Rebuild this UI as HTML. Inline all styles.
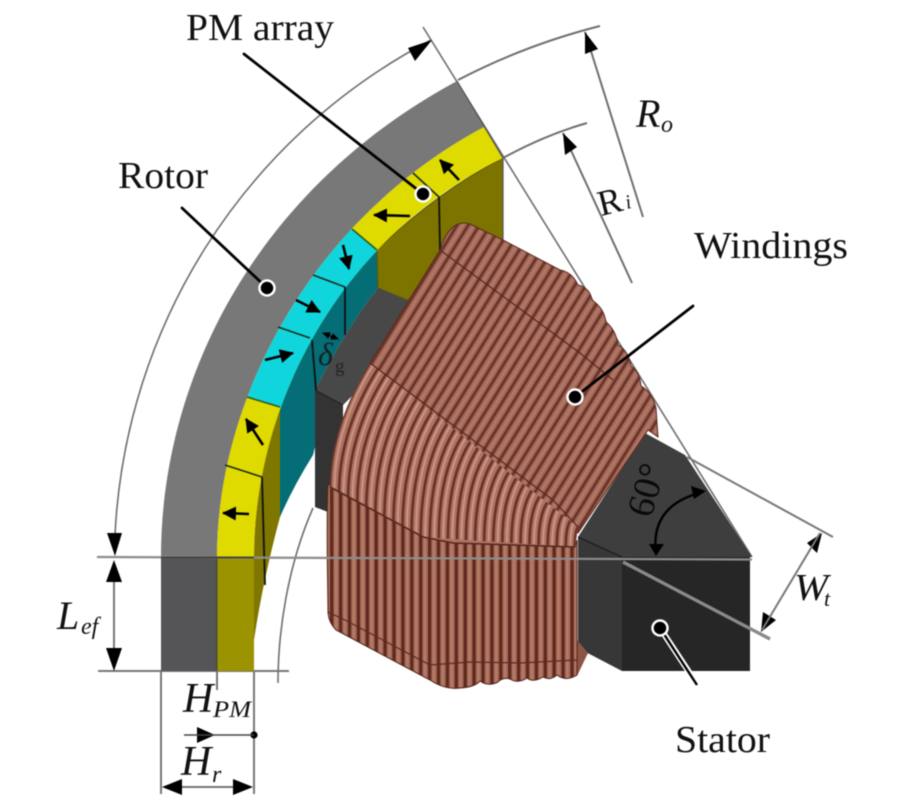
<!DOCTYPE html>
<html><head><meta charset="utf-8"><style>
html,body{margin:0;padding:0;background:#fff}
svg{display:block;filter:blur(.45px)}
text{font-family:"Liberation Serif",serif;fill:#111}
.i{font-style:italic}
</style></head><body>
<svg width="900" height="800" viewBox="0 0 900 800" xmlns="http://www.w3.org/2000/svg">
<defs>
<pattern id="z1" width="9.4" height="30" patternUnits="userSpaceOnUse" patternTransform="translate(370,363) rotate(31.8)">
<rect width="9.4" height="30" fill="#a56a5a"/><rect x="0" width="3" height="30" fill="#6c3529"/><rect x="5.4" width="1.6" height="30" fill="#b47c6c"/>
</pattern>
<pattern id="z3" width="8.9" height="30" patternUnits="userSpaceOnUse" patternTransform="translate(330,0)">
<rect width="8.9" height="30" fill="#a76b59"/><rect x="0" width="3.4" height="30" fill="#5f2a1f"/><rect x="5.2" width="1.6" height="30" fill="#b87f6c"/>
</pattern>
<marker id="a" markerUnits="userSpaceOnUse" markerWidth="16" markerHeight="14" refX="13" refY="7" orient="auto"><path d="M0,0L14,7L0,14z" fill="#000"/></marker>
<marker id="s" markerUnits="userSpaceOnUse" markerWidth="8" markerHeight="8" refX="7" refY="4" orient="auto"><path d="M0,0.5L8,4L0,7.5z" fill="#000"/></marker>
<marker id="sb" markerUnits="userSpaceOnUse" markerWidth="8" markerHeight="8" refX="1" refY="4" orient="auto"><path d="M8,0.5L0,4L8,7.5z" fill="#000"/></marker>
<path id="ring" d="M217,557C217,400 310,220 484,127L503,158C335,240 254,410 254,557Z"/>
<clipPath id="cy"><polygon points="285,409 382,254 352,229 300,230 230,340 247,397"/></clipPath>
<g id="c2" fill="none">
<path d="M370,363Q330,427 330,488"/><path d="M377.7,369.1Q339.1,430.9 339.1,492.9"/><path d="M385.4,375.1Q348.1,434.7 348.1,497.8"/><path d="M393.1,381.2Q357.2,438.6 357.2,502.7"/><path d="M400.8,387.3Q366.3,442.5 366.3,507.6"/><path d="M408.5,393.4Q375.4,446.4 375.4,512.5"/><path d="M416.2,399.4Q384.4,450.3 384.4,517.4"/><path d="M423.9,405.5Q393.5,454.2 393.5,522.3"/><path d="M431.6,411.6Q402.6,458 402.6,527.2"/><path d="M439.3,417.6Q411.6,461.9 411.6,532.1"/><path d="M447,423.7Q420.7,465.8 420.7,537"/><path d="M454.7,429.8Q429.8,469.7 429.8,537.6"/><path d="M462.4,435.8Q438.8,473.5 438.8,538.2"/><path d="M470.1,441.9Q447.9,477.4 447.9,538.8"/><path d="M477.8,448Q457,481.3 457,539.4"/><path d="M485.5,454Q466,485.2 466,540"/><path d="M493.2,460.1Q475.1,489 475.1,540.6"/><path d="M500.9,466.2Q484.2,492.9 484.2,541.2"/><path d="M508.6,472.3Q493.3,496.9 493.3,541.8"/><path d="M516.3,478.3Q502.3,500.7 502.3,542.4"/><path d="M524,484.4Q511.4,504.6 511.4,543"/><path d="M531.7,490.5Q520.5,508.5 520.5,543.6"/><path d="M539.4,496.5Q529.5,512.3 529.5,544.2"/><path d="M547.1,502.6Q538.6,516.2 538.6,544.8"/><path d="M554.8,508.7Q547.7,520.1 547.7,545.4"/><path d="M562.5,514.8Q556.8,524 556.8,546"/><path d="M570.2,520.8Q565.8,527.8 565.8,546.6"/>
</g>
<clipPath id="z2c"><path d="M370,363L578,527L575,547L453,543L423,537L330,488Q330,427 370,363Z"/></clipPath>
</defs>

<rect width="900" height="800" fill="#fff"/>

<!-- thin construction arcs -->
<g fill="none" stroke="#6e6e6e" stroke-width="1.6">
<path d="M115,535C125,330 240,140 431,40"/>
<path d="M458,80Q525,45 600,26" stroke-width="2"/>
<path d="M503,158Q545,135 587,123" stroke-width="2"/>
<path d="M278,683C278,630 288,565 313,508"/>
<path d="M423,27L752,557"/>
<path d="M687,457L833,537" stroke-width="2" stroke="#777"/>
<path d="M585,32L643,217" stroke-width="2"/>
<path d="M563,133L632,283" stroke-width="2"/>
<path d="M161,671V794M254,671V794M217,671V690" stroke="#777" stroke-width="2"/>
<path d="M98,671H289" stroke="#777" stroke-width="2"/>
</g>

<!-- inner wall -->
<path d="M254,557C254,505 264,455 280,407L280,517Q263,580 254,640V671H240V557Z" fill="#7f7600"/>
<path d="M280,407C292,352 330,295 377,250L378,288Q347,327 315,390V447L313,455Q293,487 280,517Z" fill="#056d76"/>
<path d="M377,250C416,212 458,181 503,158V242L407,300L378,288Z" fill="#7d7400" stroke="#5e5700" stroke-width="1"/>

<!-- stator back block -->
<path d="M378,288L407,300L450,300L343,405L315,390Q347,327 378,288Z" fill="#484848"/>
<path d="M315,390L343,405V520L328,512L315,507Z" fill="#333"/>
<path d="M315,390L343,405" stroke="#222" stroke-width="1.2"/>

<!-- rotor -->
<path d="M161,557C161,380 255,190 457,81L484,127C310,220 217,400 217,557Z" fill="#787878"/>
<rect x="161" y="557" width="56" height="114" fill="#555558"/>
<rect x="217" y="557" width="37" height="114" fill="#9c9300"/>
<rect x="216" y="557" width="1.5" height="114" fill="#4a4a30"/>
<use href="#ring" fill="#dfda00"/>
<use href="#ring" fill="#10d5dc" clip-path="url(#cy)"/>
<g stroke="#1c2a1c" stroke-width="1.6" fill="none">
<path d="M225,465L262,477"/><path d="M247,397L280,407" stroke="#2a5a20"/><path d="M278,327L310,338"/><path d="M313,275L345,287"/><path d="M352,229L377,250" stroke="#2a5a20"/><path d="M413,173L439,197"/>
<path d="M439,197L440,250M345,287V335M312,340L316,390M262,477L265,585" stroke="#111" stroke-width="1.8"/>
<path d="M457,81L503,158L503,240" stroke="#555" stroke-width="1.2"/>
</g>

<!-- stator -->
<path d="M645,433L685,455L752,557H622L578,537Z" fill="#3e3e3e"/>
<path d="M578,537L622,557V671L578,648Z" fill="#373737"/>
<rect x="622" y="557" width="128" height="114" fill="#262626"/>
<path d="M578,537L622,557" stroke="#191919" stroke-width="1.2"/>

<!-- windings -->
<path d="M577,640L588,653L577,676L565,660Z" fill="#8d5545"/>
<path d="M328,483C326,530 328,590 328,613Q329,623 336,630L430,680Q445,690 460,688Q475,687 480,681Q488,687 498,682Q503,677 510,679Q518,684 527,678Q533,683 543,677Q550,681 557,675Q566,682 577,675L577,540L575,547L453,543L423,537L332,488Z" fill="url(#z3)" stroke="#4f2319" stroke-width="1"/>
<path d="M328,612L345,620L430,665L470,662L520,663L577,660" fill="none" stroke="#5b2a20" stroke-width="1.2"/>
<path d="M370,363L440,250Q450,218 470,224L503,240L560,270Q572,272 578,285Q590,288 592,300Q604,308 606,322Q616,330 618,345Q628,350 631,366Q640,372 641,386Q652,392 656,408L658,437L648,430L578,533L370,363Z" fill="url(#z1)" stroke="#5a2b20" stroke-width="1"/>
<path d="M440,250L580,353L613,380" fill="none" stroke="#54281e" stroke-width="1.2"/>
<g clip-path="url(#z2c)">
<rect x="320" y="355" width="265" height="200" fill="#ad7463"/>
<use href="#c2" stroke="#cf9b8a" stroke-width="1.6" transform="translate(4.5,0)"/>
<use href="#c2" stroke="#6c3227" stroke-width="2.8"/>
<path d="M578,527Q575,532 575,547" fill="none" stroke="#6c3227" stroke-width="3"/>
</g>
<path d="M370,363L553,500L578,527" fill="none" stroke="#54281e" stroke-width="1.2"/>
<path d="M330,487L423,537L453,543L575,547" fill="none" stroke="#54281e" stroke-width="1.6"/>

<!-- long lines -->
<path d="M97,557L752,559.5" stroke="#8d8d8d" stroke-width="2.2" fill="none"/>
<path d="M161,557.5H254" stroke="#333" stroke-width="1.6" fill="none"/>
<path d="M623,562L770,639" stroke="#8a8a8a" stroke-width="3.4" fill="none"/>

<!-- magnet arrows -->
<g stroke="#000" stroke-width="2.6" fill="none">
<path d="M459,180L440,160" marker-end="url(#a)"/>
<path d="M410,216L374,215" marker-end="url(#a)"/>
<path d="M343,245L349,269" marker-end="url(#a)"/>
<path d="M296,300L320,312" marker-end="url(#a)"/>
<path d="M265,360L293,353" marker-end="url(#a)"/>
<path d="M263,445L246,419" marker-end="url(#a)"/>
<path d="M249,514L223,513" marker-end="url(#a)"/>
<path d="M323,333L338,339" stroke-width="1.3" marker-start="url(#sb)" marker-end="url(#s)"/>
</g>

<!-- dimension lines and arrowheads -->
<g fill="#000">
<polygon points="115,556 107,533 122,533"/>
<polygon points="432,40 408,48 415,61"/>
<polygon points="585,32 585,54 598,49"/>
<polygon points="563,133 565,155 577,147"/>
<polygon points="114,560 106,582 122,582"/>
<polygon points="114,671 106,648 122,648"/>
<polygon points="215,735 197,727 197,743"/>
<circle cx="254" cy="735" r="3.6"/>
<polygon points="162,787 182,779 182,795"/>
<polygon points="253,787 233,779 233,795"/>
<polygon points="822,533 807,543 817,553"/>
<polygon points="761,632 763,612 776,620"/>
</g>
<g stroke="#777" stroke-width="2" fill="none">
<path d="M114,582V648"/>
<path d="M197,735H254M184,735H197" stroke="#444" stroke-width="1.6"/>
<path d="M182,787H233"/>
<path d="M820,533L762,630"/>
</g>

<!-- 60 degree arc -->
<path d="M703,492Q650,505 656,553" fill="none" stroke="#000" stroke-width="2.4"/>
<polygon points="706,491 691,486 694,499" fill="#000"/>
<polygon points="656,556 649,544 664,544" fill="#000"/>

<!-- leaders -->
<g stroke="#000" stroke-width="2.8" fill="none" stroke-linecap="round">
<path d="M244,54L423,194"/>
<path d="M182,208L267,288"/>
<path d="M575,397L693,306"/>
</g>
<path d="M660,628L693,678" stroke="#fff" stroke-width="6" fill="none"/>
<path d="M660,628L697,685" stroke="#000" stroke-width="2.4" fill="none"/>
<g fill="#000" stroke="#fff" stroke-width="2.5">
<circle cx="423" cy="194" r="7.5"/>
<circle cx="267" cy="288" r="7.5"/>
<circle cx="575" cy="397" r="7.5"/>
<circle cx="660" cy="628" r="7.5"/>
</g>

<!-- text -->
<text x="186" y="40" font-size="38" textLength="148" lengthAdjust="spacingAndGlyphs">PM array</text>
<text x="118" y="188" font-size="38" textLength="90" lengthAdjust="spacingAndGlyphs">Rotor</text>
<text x="694" y="258" font-size="38" textLength="154" lengthAdjust="spacingAndGlyphs">Windings</text>
<text x="675" y="752" font-size="38" textLength="95" lengthAdjust="spacingAndGlyphs">Stator</text>
<text class="i" x="636" y="127" font-size="40">R</text>
<text class="i" x="661" y="132" font-size="24">o</text>
<text transform="translate(601,216) rotate(-14)" font-size="36">R</text>
<text class="i" transform="translate(627,209) rotate(-14)" font-size="20">i</text>
<text class="i" x="57" y="629" font-size="40">L</text>
<text class="i" x="81" y="634" font-size="24">ef</text>
<text class="i" x="183" y="712" font-size="42">H</text>
<text class="i" x="213" y="717" font-size="23" textLength="38" lengthAdjust="spacingAndGlyphs">PM</text>
<text class="i" x="181" y="775" font-size="42">H</text>
<text class="i" x="212" y="782" font-size="24">r</text>
<text class="i" x="794" y="600" font-size="38" textLength="34" lengthAdjust="spacingAndGlyphs">W</text>
<text class="i" x="824" y="606" font-size="22">t</text>
<text transform="translate(651,519) rotate(-74)" font-size="38" style="fill:#0a0a0a">60°</text>
<text class="i" x="318" y="365" font-size="32" style="fill:#14211f">δ</text>
<text x="335" y="372" font-size="19" style="fill:#222">g</text>
</svg>
</body></html>
